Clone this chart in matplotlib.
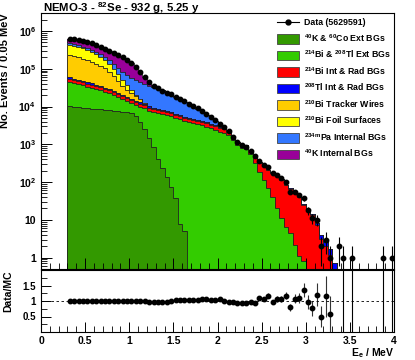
import numpy as np
import matplotlib
matplotlib.use('Agg')
import matplotlib.pyplot as plt
from matplotlib.patches import Patch
from matplotlib.lines import Line2D
from matplotlib.ticker import MultipleLocator, LogLocator, FuncFormatter, NullFormatter

plt.rcParams['font.family'] = ['Liberation Sans', 'DejaVu Sans']
plt.rcParams['font.weight'] = 'bold'
plt.rcParams['mathtext.fontset'] = 'custom'
plt.rcParams['mathtext.rm'] = 'Liberation Sans:bold'
plt.rcParams['mathtext.it'] = 'Liberation Sans:bold'
plt.rcParams['mathtext.bf'] = 'Liberation Sans:bold'

# binning: 0.05 MeV bins starting at 0.3 MeV, 74 bins
bin_lo = 0.3
bin_w = 0.05
n_bins = 74

data = [631000, 617000, 589000, 550000, 513000, 468000, 417000, 372000, 331000, 295000,
        263000, 234000, 204000, 174000, 141000, 110000, 83200, 60300, 43600, 35500,
        30200, 26300, 23400, 20900, 18200, 15800, 13800, 12000, 10200, 8910,
        7590, 6460, 5370, 4370, 3550, 2820, 2190, 1550, 1120, 955,
        870, 676, 479, 372, 288, 245, 174, 155, 126, 98,
        56, 56, 46, 37, 18, 11, 10, 2, 3, 1,
        0, 2, 1, 0, 1, 0, 0, 0, 0, 0,
        0, 1, 0, 1]

k_co_ext = [10500, 9900, 9600, 9300, 9000, 8800, 8600, 8400, 8200, 8000,
            7800, 7600, 7300, 7000, 6600, 5600, 4000, 2600, 1500, 870,
            420, 240, 140, 75, 37, 8, 5]

bi_tl_ext = [35200, 32800, 30200, 27900, 24900, 22800, 20900, 18500, 16300, 14400,
             12200, 10200, 8500, 6800, 5700, 5600, 6000, 6300, 6260, 6370,
             6340, 6070, 5750, 5420, 4970, 4560, 4160, 3890, 3630, 3390,
             3160, 2880, 2630, 2400, 2140, 1950, 1720, 1300, 960, 820,
             750, 560, 330, 190, 115, 70, 40, 20, 11, 6.5,
             4.5, 2.2, 1.1, 0.8]

bi_int = [9100, 8500, 8000, 7400, 6800, 6300, 5900, 5400, 4900, 4500,
          4000, 3600, 3200, 2800, 2500, 2250, 2000, 1800, 1600, 1450,
          1350, 1270, 1200, 1120, 1050, 980, 920, 870, 820, 770,
          730, 690, 650, 610, 560, 520, 400, 225, 200, 195,
          186, 129, 175, 140, 152, 135, 136, 123, 104, 75,
          63, 48, 39, 24.5, 17, 13.3, 7.3, 3.2, 2.0, 1.2,
          0.3]

tl_int = [4400, 4100, 3800, 3600, 3300, 3000, 2800, 2600, 2350, 2150,
          1900, 1700, 1500, 1300, 1150, 1000, 880, 770, 680, 600,
          520, 500, 470, 440, 410, 380, 360, 340, 320, 300,
          280, 260, 240, 220, 200, 180, 120, 50, 20, 12,
          10, 8, 5, 5, 5, 4, 3, 3, 3, 2.5,
          2.5, 2, 2, 1.7, 1.4, 1.2, 1.0, 0.8, 0.6, 0.5,
          0.4, 0.08]

bi_wires = [175200, 163500, 147900, 133800, 122000, 114000, 99800, 85300, 72950, 54150,
            37200, 24800, 15000, 9600, 6450, 4150, 2620, 1130, 100]

bi_foil = [192200, 188600, 180700, 164700, 143000, 120500, 101900, 84000, 61300, 48600,
           36900, 24500, 15800, 8800, 4500, 1800, 300, 100]

pa_int = [41000, 40500, 40000, 39500, 39000, 38500, 38000, 37500, 37000, 36000,
          35000, 34000, 33000, 32000, 31000, 30000, 29000, 27000, 25500, 23800,
          22170, 18760, 16340, 13845, 11370, 9410, 7950, 6440, 5040, 4110,
          3060, 2320, 1640, 970, 480, 170, 20, 5]

k_int = [157200, 163000, 163000, 158400, 159900, 149500, 139100, 130300, 128000, 127200,
         125400, 125300, 117700, 104000, 81700, 59600, 38400, 21200, 8860, 3100]

labels = [r'$^{40}$K & $^{60}$Co Ext BGs',
          r'$^{214}$Bi & $^{208}$Tl Ext BGs',
          r'$^{214}$Bi Int & Rad BGs',
          r'$^{208}$Tl Int & Rad BGs',
          r'$^{210}$Bi Tracker Wires',
          r'$^{210}$Bi Foil Surfaces',
          r'$^{234m}$Pa Internal BGs',
          r'$^{40}$K Internal BGs']
colors = ['#339900', '#33cc00', '#ff0000', '#0000ff',
          '#ffcc00', '#ffff00', '#3377ff', '#990099']
components = [k_co_ext, bi_tl_ext, bi_int, tl_int, bi_wires, bi_foil, pa_int, k_int]


def pad(vals):
    out = np.zeros(n_bins)
    out[:len(vals)] = vals
    return out


edges = bin_lo + bin_w * np.arange(n_bins + 1)
centers = 0.5 * (edges[:-1] + edges[1:])
data = np.array(data, dtype=float)
stack = np.cumsum([pad(c) for c in components], axis=0)
mc_total = stack[-1]

fig = plt.figure(figsize=(4.15, 3.6), dpi=100)
ax = fig.add_axes([41 / 415, 1 - 269 / 360, 353 / 415, 256 / 360])
axr = fig.add_axes([41 / 415, 1 - 332 / 360, 353 / 415, 62 / 360], sharex=ax)

# stacked MC, drawn top layer first
for k in reversed(range(len(components))):
    vals = np.where(stack[k] > 0, stack[k], 1e-3)
    ax.stairs(vals, edges, baseline=1e-3, fill=True, facecolor=colors[k], edgecolor='none')
    ax.stairs(vals, edges, baseline=1e-3, color='#222222', lw=0.6)

m = data > 0
ax.errorbar(centers[m], data[m], yerr=np.sqrt(data[m]), fmt='o', color='k',
            ms=3.2, elinewidth=0.8, capsize=0, zorder=5)

ax.set_yscale('log')
ax.set_ylim(0.5, 3e6)
ax.set_xlim(0, 4)


def log_fmt(v, pos):
    n = int(round(np.log10(v)))
    if n == 0:
        return '1'
    if n == 1:
        return '10'
    return r'$10^{%d}$' % n


ax.yaxis.set_major_locator(LogLocator(base=10, numticks=10))
ax.yaxis.set_minor_locator(LogLocator(base=10, subs=np.arange(2, 10), numticks=20))
ax.yaxis.set_major_formatter(FuncFormatter(log_fmt))
ax.yaxis.set_minor_formatter(NullFormatter())
ax.xaxis.set_major_locator(MultipleLocator(0.5))
ax.xaxis.set_minor_locator(MultipleLocator(0.1))
ax.tick_params(axis='x', labelbottom=False)
ax.tick_params(which='major', direction='in', length=8, width=0.7, labelsize=7.5)
ax.tick_params(which='minor', direction='in', length=4, width=0.6)
ax.set_ylabel('No. Events / 0.05 MeV', fontsize=8, fontweight='bold', loc='top')
ax.yaxis.set_label_coords(-0.088, 1.0)

handles = [Line2D([0], [0], color='k', marker='o', ms=3.5, lw=0.8)]
handles += [Patch(facecolor=c, edgecolor='#444444', lw=0.6) for c in colors]
ax.legend(handles, ['Data (5629591)'] + labels, loc='upper left',
          bbox_to_anchor=(0.66, 0.995), frameon=False, fontsize=6.3,
          handlelength=2.5, handleheight=1.25, labelspacing=0.55, handletextpad=0.5,
          borderaxespad=0)

fig.text(43 / 415, 1 - 8.5 / 360, r'NEMO-3 - $^{82}$Se - 932 g, 5.25 y', fontsize=8.2,
         fontweight='bold', va='center', ha='left')

# ratio panel
ok = m & (mc_total > 0)
ratio = data[ok] / mc_total[ok]
axr.errorbar(centers[ok], ratio, yerr=ratio / np.sqrt(data[ok]), fmt='o', color='k',
             ms=3.2, elinewidth=0.8, capsize=0, ecolor='#333333')
for x in centers[m & (mc_total <= 0)]:
    axr.axvline(x, color='k', lw=0.8)
axr.axhline(1, color='k', lw=0.6, ls=(0, (3, 3)))
axr.set_ylim(0, 2)
axr.yaxis.set_major_locator(MultipleLocator(0.5))
axr.yaxis.set_minor_locator(MultipleLocator(0.25))
axr.yaxis.set_major_formatter(FuncFormatter(lambda v, p: '' if v in (0, 2) else ('%g' % v)))
axr.tick_params(which='major', direction='in', length=7, width=0.7, labelsize=7)
axr.tick_params(which='minor', direction='in', length=4, width=0.6)
axr.tick_params(axis='x', labelsize=7.5, pad=3)
axr.xaxis.set_major_formatter(FuncFormatter(lambda v, p: '%g' % v))
axr.set_ylabel('Data/MC', fontsize=7.5, fontweight='bold', loc='top')
axr.yaxis.set_label_coords(-0.08, 1.0)

for a in (ax, axr):
    for s in a.spines.values():
        s.set_linewidth(0.8)

fig.text(394 / 415, 1 - 359.5 / 360, r'E$_{e}$ / MeV', fontsize=7.5, fontweight='bold',
         ha='right', va='bottom')

fig.savefig('out.png', dpi=100)
